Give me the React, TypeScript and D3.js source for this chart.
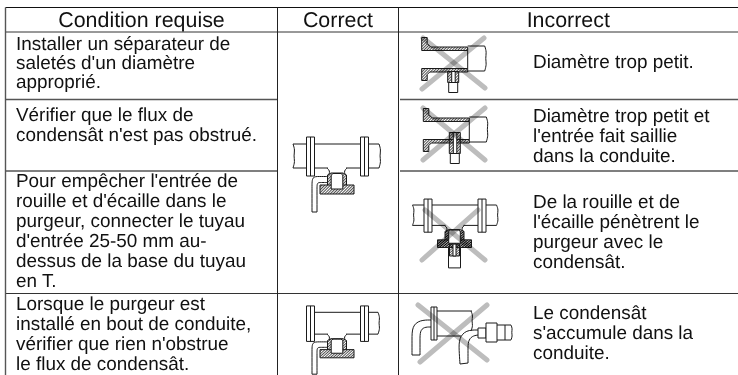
import React, { useEffect, useRef } from "react";
import * as d3 from "d3";

const headers = ["Condition requise", "Correct", "Incorrect"];
const conditions = [
  ["Installer un séparateur de", "saletés d'un diamètre", "approprié."],
  ["Vérifier que le flux de", "condensât n'est pas obstrué."],
  [
    "Pour empêcher l'entrée de",
    "rouille et d'écaille dans le",
    "purgeur, connecter le tuyau",
    "d'entrée 25-50 mm au-",
    "dessus de la base du tuyau",
    "en T.",
  ],
  [
    "Lorsque le purgeur est",
    "installé en bout de conduite,",
    "vérifier que rien n'obstrue",
    "le flux de condensât.",
  ],
];
const results = [
  ["Diamètre trop petit."],
  ["Diamètre trop petit et", "l'entrée fait saillie", "dans la conduite."],
  ["De la rouille et de", "l'écaille pénètrent le", "purgeur avec le", "condensât."],
  ["Le condensât", "s'accumule dans la", "conduite."],
];
const conditionFirstLine = [50, 121, 187, 310];
const conditionStep = [19, 19.5, 20, 20];
const resultFirstLine = [68, 121.7, 207.7, 319.3];
const resultStep = [20, 20, 20, 20];

const columnEdges = [5.5, 277.5, 398.5, 738];
const rowEdges = [7.5, 32, 99.5, 171, 293.5];

const INK = "#1a1a1a";
const CROSS = "#bdbdbd";
const FONT = "'Liberation Sans', Arial, sans-serif";

type Pt = [number, number];
type Sel = d3.Selection<any, unknown, any, any>;

const line = d3.line();
const smooth = d3.line().curve(d3.curveBasis);

function stroke(g: Sel, d: string | null, fill = "none", w = 1) {
  return g
    .append("path")
    .attr("d", d)
    .attr("fill", fill)
    .attr("stroke", INK)
    .attr("stroke-width", w)
    .attr("vector-effect", "non-scaling-stroke");
}
const rect = (g: Sel, x0: number, y0: number, x1: number, y1: number, fill = "#fff") =>
  stroke(g, line([[x0, y0], [x1, y0], [x1, y1], [x0, y1], [x0, y0]]), fill);

// wavy cut at a pipe end
const wave = (x: number, y0: number, y1: number, amp = 2): string | null => {
  const h = y1 - y0;
  return smooth([
    [x, y0],
    [x + amp, y0 + h * 0.25],
    [x + amp * 0.3, y0 + h * 0.5],
    [x + amp, y0 + h * 0.72],
    [x, y1],
  ]);
};

function cross(g: Sel, a: Pt, b: Pt, c: Pt, e: Pt) {
  [[a, b], [c, e]].forEach(seg => {
    g.append("path")
      .attr("d", line(seg as Pt[]))
      .attr("stroke", CROSS)
      .attr("stroke-width", 5)
      .attr("stroke-linecap", "round")
      .style("mix-blend-mode", "multiply");
  });
}

// T piece with flanges and the trap underneath
function tee(
  root: Sel,
  x0: number,
  y0: number,
  sy: number,
  opts: { left: number; right: number; bad?: boolean }
) {
  const g = root.append("g").attr("transform", `translate(${x0},${y0}) scale(1,${sy})`);
  const { left, right, bad } = opts;
  const inset = left > -30 ? -22 : left;
  // pipe
  stroke(g, line([[inset, 0], [right, 0]]));
  stroke(g, line([[inset, 24], [-9, 24]]));
  stroke(g, line([[9, 24], [right, 24]]));
  if (left <= -30) stroke(g, wave(left, 0, 24));
  stroke(g, wave(right, 0, 24));
  // flanges
  [-30.5, 23.5].forEach(fx => {
    rect(g, fx, -7, fx + 8, 32);
    stroke(g, line([[fx + 4, -7], [fx + 4, 32]]));
  });
  // neck ticks
  stroke(g, smooth([[-10, 24], [-7, 27], [-8, 30]]));
  stroke(g, smooth([[10, 24], [7, 27], [8, 30]]));
  const hatch = bad ? "url(#hatchDark)" : "url(#hatch)";
  // trap body
  rect(g, -17, 41, 17, 50, hatch);
  stroke(g, line([[-9.5, 41], [-9.5, 31], [-6, 29], [6, 29], [9.5, 31], [9.5, 41]]), hatch);
  stroke(
    g,
    line([[-5.8, 45], [-5.8, 31], [-4, 29.5], [4, 29.5], [5.8, 31], [5.8, 45], [-5.8, 45]]),
    "#fff"
  );
  if (bad) {
    rect(g, -6, 50, 6, 74, "#fff");
    rect(g, -5, 46, 5, 60, "url(#hatch)");
    rect(g, -1.5, 46, 1.5, 60, "#fff");
  } else {
    // bent inlet
    stroke(g, line([[-25, 68], [-20, 68]]));
    stroke(g, smooth([[-25, 68], [-25, 42], [-25, 32.5], [-18, 32.5], [-9, 32.5]]), "none");
    stroke(g, smooth([[-20, 68], [-20, 44], [-20, 38.5], [-16, 38.5], [-9, 38.5]]), "none");
  }
}

// flanged reducer with the nozzle underneath
function reducer(root: Sel, x0: number, y0: number, protrude: boolean) {
  const g = root.append("g").attr("transform", `translate(${x0},${y0})`);
  // pipe
  stroke(g, line([[46, 8.5], [63, 8.5]]));
  stroke(g, line([[46, 33.5], [63, 33.5]]));
  stroke(g, wave(63, 8.5, 33.5));
  // walls
  stroke(g, line([[0, 0], [5.5, 0], [5.5, 6], [9, 9.5], [46, 9.5], [46, 13], [0, 13], [0, 0]]), "url(#hatch)");
  stroke(g, line([[0, 31], [46, 31], [46, 34.5], [8, 34.5], [5.5, 37], [5.5, 43], [0, 43], [0, 31]]), "url(#hatch)");
  stroke(g, line([[46, 13], [46, 31]]));
  // nozzle
  const top = protrude ? 24 : 34;
  rect(g, 26, top, 37, 45, "url(#hatch)");
  rect(g, 30, top, 33.5, 45);
  rect(g, 27, 45, 36, 55);
}

function elbows(root: Sel) {
  // flange and pipe behind it
  stroke(root, line([[437, 311], [472, 311]]));
  stroke(root, line([[437, 336], [461, 336]]));
  stroke(root, wave(471, 311, 331));
  rect(root, 431, 307, 437, 340);
  stroke(root, line([[434, 307], [434, 340]]));
  // left elbow
  stroke(root, smooth([[431, 320], [420, 320], [412, 326], [412, 340], [412, 355]]));
  stroke(root, smooth([[431, 327], [424, 327], [420, 331], [420, 340], [420, 355]]));
  stroke(root, line([[412, 355], [420, 355]]));
  // right elbow, union and pipe
  stroke(root, smooth([[478, 330], [466, 330], [459, 338], [459, 350], [460, 364]]));
  stroke(root, smooth([[478, 335], [472, 336], [468, 341], [468, 350], [468, 363]]));
  stroke(root, line([[460, 364], [468, 363]]));
  rect(root, 478, 328, 486, 338);
  rect(root, 486, 323, 497, 342);
  stroke(root, line([[497, 325], [511, 325]]));
  stroke(root, line([[497, 340], [511, 340]]));
  stroke(root, line([[505, 325], [505, 340]]));
  stroke(root, wave(511, 325, 340, 1.5));
}

export default function App() {
  const ref = useRef<SVGSVGElement>(null);

  useEffect(() => {
    const svg = d3.select(ref.current);
    svg.selectAll("*").remove();

    const defs = svg.append("defs");
    [
      ["hatch", "#222", 0.8, 2],
      ["hatchDark", "#000", 1.3, 2],
    ].forEach(([id, c, w, s]) => {
      defs
        .append("pattern")
        .attr("id", id as string)
        .attr("patternUnits", "userSpaceOnUse")
        .attr("width", s as number)
        .attr("height", s as number)
        .attr("patternTransform", "rotate(45)")
        .append("rect")
        .attr("width", w as number)
        .attr("height", s as number)
        .attr("fill", c as string);
    });

    // grid
    const x = d3.scaleOrdinal<number, number>().domain([0, 1, 2, 3]).range(columnEdges);
    const y = d3.scaleOrdinal<number, number>().domain([0, 1, 2, 3, 4]).range(rowEdges);
    const grid = svg.append("g").attr("stroke", INK).attr("fill", "none");
    const hline = (x0: number, x1: number, yy: number, c = INK, w = 1) =>
      grid.append("line").attr("x1", x0).attr("x2", x1).attr("y1", yy).attr("y2", yy).attr("stroke", c).attr("stroke-width", w);
    hline(x(0), x(3), y(0), "#111", 1);
    hline(x(0), x(3), y(1), "#333", 1);
    [2, 3].forEach(r => {
      hline(x(0), x(1), y(r), "#555", 1.6);
      hline(x(2) + 1.5, x(3), y(r), "#555", 1.6);
    });
    hline(x(0), x(3), y(4), "#333", 1);
    [0, 1, 2].forEach(c => {
      grid.append("line").attr("x1", x(c)).attr("x2", x(c)).attr("y1", y(0)).attr("y2", 375).attr("stroke", c === 0 ? "#555" : "#222").attr("stroke-width", c === 0 ? 1.4 : 1);
    });

    // drawings
    const art = svg.append("g");
    tee(art, 337, 144, 1, { left: -44, right: 42 });
    tee(art, 337, 312.3, 0.91, { left: -24, right: 41 });
    reducer(art, 421.7, 37.5, false);
    reducer(art, 423.3, 108.5, true);
    tee(art, 454.5, 205, 0.85, { left: -42, right: 42, bad: true });
    elbows(art);
    cross(art, [423, 38], [485, 88], [422, 89], [484, 38]);
    cross(art, [423, 108], [485, 160], [423, 160], [485, 108]);
    cross(art, [425, 210], [485, 260], [422, 260], [478, 210]);
    cross(art, [418, 305], [487, 360], [420, 362], [487, 305]);

    // text
    const text = svg
      .append("g")
      .attr("font-family", FONT)
      .attr("fill", "#111")
      .attr("text-rendering", "geometricPrecision");
    headers.forEach((h, i) => {
      text
        .append("text")
        .attr("x", (x(i) + x(i + 1)) / 2)
        .attr("y", 26.5)
        .attr("text-anchor", "middle")
        .attr("font-size", 21.4)
        .text(h);
    });
    const block = (rows: string[][], xx: number, first: number[], step: number[]) =>
      rows.forEach((lines, r) =>
        lines.forEach((l, i) => {
          text
            .append("text")
            .attr("x", xx)
            .attr("y", first[r] + i * step[r])
            .attr("font-size", 18.9)
            .text(l);
        })
      );
    block(conditions, 16, conditionFirstLine, conditionStep);
    block(results, 533, resultFirstLine, resultStep);
  }, []);

  return (
    <svg
      ref={ref}
      width={738}
      height={375}
      style={{ position: "absolute", left: 0, top: 0, background: "#fff" }}
    />
  );
}
